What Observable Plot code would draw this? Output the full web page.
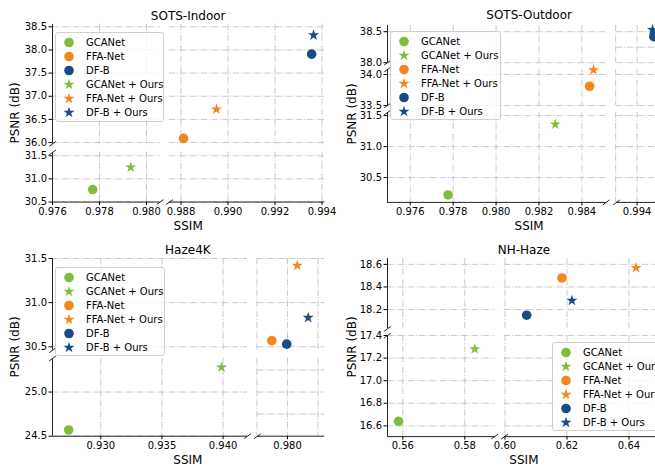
<!DOCTYPE html>
<html><head><meta charset="utf-8">
<script src="https://cdn.jsdelivr.net/npm/d3@7"></script>
<script src="https://cdn.jsdelivr.net/npm/@observablehq/plot@0.6"></script>
<style>
html,body{margin:0;padding:0;background:#fff;}
#fig{position:relative;width:655px;height:467px;overflow:hidden;font-family:"DejaVu Sans",sans-serif;color:#000;}
.lbl{position:absolute;transform:translate(-50%,-50%);white-space:nowrap;font-size:12px;line-height:1;}
.rot{transform:translate(-50%,-50%) rotate(-90deg);}
.legend{position:absolute;border:1px solid #cfcfcf;border-radius:3px;background:rgba(255,255,255,0.8);box-sizing:border-box;}
</style></head><body><div id="fig"></div>
<script>
// ---------------- data ----------------
const methods = ["GCANet", "FFA-Net", "DF-B"];
const methodColors = ["#80bd3c", "#f4861e", "#1a4a87"];

const indoorBaseSSIM = [0.97771, 0.98811, 0.99356];
const indoorBasePSNR = [30.77, 36.09, 37.91];
const indoorOursSSIM = [0.97933, 0.98951, 0.99364];
const indoorOursPSNR = [31.25, 36.72, 38.32];

const outdoorBaseSSIM = [0.97776, 0.98436, 0.99478];
const outdoorBasePSNR = [30.22, 33.81, 38.42];
const outdoorOursSSIM = [0.98276, 0.98454, 0.99472];
const outdoorOursPSNR = [31.36, 34.07, 38.53];

const haze4kBaseSSIM = [0.92737, 0.97872, 0.97994];
const haze4kBasePSNR = [24.57, 30.57, 30.53];
const haze4kOursSSIM = [0.93987, 0.98080, 0.98170];
const haze4kOursPSNR = [25.28, 31.42, 30.83];

const nhBaseSSIM = [0.5586, 0.6184, 0.6070];
const nhBasePSNR = [16.64, 18.48, 18.15];
const nhOursSSIM = [0.5832, 0.6423, 0.6216];
const nhOursPSNR = [17.28, 18.57, 18.28];

// tick labels (per x segment / per y segment, top to bottom)
const indoorXTicks = [[0.976, 0.978, 0.980], [0.988, 0.990, 0.992, 0.994]];
const indoorYTicks = [[36.0, 36.5, 37.0, 37.5, 38.0, 38.5], [30.5, 31.0, 31.5]];
const outdoorXTicks = [[0.976, 0.978, 0.980, 0.982, 0.984], [0.994]];
const outdoorYTicks = [[38.0, 38.5], [33.5, 34.0], [30.5, 31.0, 31.5]];
const haze4kXTicks = [[0.930, 0.935, 0.940], [0.980]];
const haze4kYTicks = [[30.5, 31.0, 31.5], [24.5, 25.0]];
const nhXTicks = [[0.56, 0.58], [0.60, 0.62, 0.64]];
const nhYTicks = [[18.2, 18.4, 18.6], [16.6, 16.8, 17.0, 17.2, 17.4]];

const legendOrderA = ["GCANet", "FFA-Net", "DF-B", "GCANet + Ours", "FFA-Net + Ours", "DF-B + Ours"];
const legendOrderB = ["GCANet", "GCANet + Ours", "FFA-Net", "FFA-Net + Ours", "DF-B", "DF-B + Ours"];

// ---------------- layout ----------------
const subplots = [
  {title: "SOTS-Indoor", base: [indoorBaseSSIM, indoorBasePSNR], ours: [indoorOursSSIM, indoorOursPSNR],
   x: {left: 51.7, k: 23500, gap: 10, segs: [[0.976, 0.98058], [0.98751, 0.99412]]},
   y: {top: 24.3, k: 46.3, gap: 8, segs: [[35.97, 38.55], [30.5, 31.57]]},
   xTicks: indoorXTicks, yTicks: indoorYTicks, xFmt: ".3f",
   xGrid: indoorXTicks, yGridRight: indoorYTicks,
   legend: {order: legendOrderA, left: 55, top: 32.3, w: 109, h: 90},
   psnrX: 15, ssimY: 226, titleY: 16},
  {title: "SOTS-Outdoor", base: [outdoorBaseSSIM, outdoorBasePSNR], ours: [outdoorOursSSIM, outdoorOursPSNR],
   x: {left: 387.3, k: 21460, gap: 10, segs: [[0.97494, 0.98513], [0.99304, 0.9956]]},
   y: {top: 25, k: 62, gap: 7, segs: [[38.0, 38.6], [33.5, 34.08], [30.1, 31.55]]},
   xTicks: outdoorXTicks, yTicks: outdoorYTicks, xFmt: ".3f",
   xGrid: [outdoorXTicks[0], [0.993, 0.994, 0.995]],
   yGridRight: [[38.0, 38.25, 38.5], [33.5, 34.0], [30.5, 31.0, 31.5]],
   legend: {order: legendOrderB, left: 390, top: 30.7, w: 111, h: 89},
   psnrX: 351.7, ssimY: 226, titleY: 15},
  {title: "Haze4K", base: [haze4kBaseSSIM, haze4kBasePSNR], ours: [haze4kOursSSIM, haze4kOursPSNR],
   x: {left: 51.7, k: 12230, gap: 10, segs: [[0.92605, 0.942], [0.97755, 0.98305]]},
   y: {top: 258.3, k: 88.3, gap: 8, segs: [[30.46, 31.5], [24.5, 25.38]]},
   xTicks: haze4kXTicks, yTicks: haze4kYTicks, xFmt: ".3f",
   xGrid: [haze4kXTicks[0], [0.9775, 0.980, 0.9825]],
   yGridRight: [[30.5, 31.0, 31.5], [24.75, 25.0, 25.25]],
   legend: {order: legendOrderB, left: 55, top: 266.7, w: 110, h: 89},
   psnrX: 15, ssimY: 460, titleY: 250},
  {title: "NH-Haze", base: [nhBaseSSIM, nhBasePSNR], ours: [nhOursSSIM, nhOursPSNR],
   x: {left: 387.3, k: 3100, gap: 10, segs: [[0.55506, 0.58963], [0.59985, 0.6502]]},
   y: {top: 258.3, k: 113, gap: 6, segs: [[18.03, 18.652], [16.505, 17.4]]},
   xTicks: nhXTicks, yTicks: nhYTicks, xFmt: ".2f",
   xGrid: nhXTicks, yGridRight: nhYTicks,
   legend: {order: legendOrderB, left: 551.7, top: 341.7, w: 112, h: 89},
   psnrX: 351.7, ssimY: 460, titleY: 250}
];

const fig = document.getElementById("fig");
const M = 40;
const circleR = 4.8, starR = 3.5;
const gridStyle = {stroke: "#bdbdbd", strokeWidth: 0.8, strokeDasharray: "6.4,1.6,1,1.6"};
const spineStyle = {stroke: "#222", strokeWidth: 1};
const slash = {draw(ctx, size) { const s = Math.sqrt(size) / 2; ctx.moveTo(-s, s * 0.72); ctx.lineTo(s, -s * 0.72); }};
const colorScale = {domain: methods, range: methodColors};
const symOf = n => n.includes("Ours") ? "star" : "circle";
const methodOf = n => n.replace(" + Ours", "");

function addLabel(text, x, y, rot) {
  const d = document.createElement("div");
  d.className = "lbl" + (rot ? " rot" : "");
  d.textContent = text;
  d.style.left = x + "px"; d.style.top = y + "px";
  fig.appendChild(d);
}

for (const cfg of subplots) {
  const xpx = []; let cx = cfg.x.left;
  for (const d of cfg.x.segs) { const w = (d[1] - d[0]) * cfg.x.k; xpx.push([cx, cx + w]); cx += w + cfg.x.gap; }
  const ypx = []; let cy = cfg.y.top;
  for (const d of cfg.y.segs) { const h = (d[1] - d[0]) * cfg.y.k; ypx.push([cy, cy + h]); cy += h + cfg.y.gap; }
  const pts = [];
  methods.forEach((m, i) => {
    pts.push({method: m, kind: "base", ssim: cfg.base[0][i], psnr: cfg.base[1][i]});
    pts.push({method: m, kind: "ours", ssim: cfg.ours[0][i], psnr: cfg.ours[1][i]});
  });
  const nx = cfg.x.segs.length, ny = cfg.y.segs.length;
  for (let j = 0; j < ny; j++) for (let i = 0; i < nx; i++) {
    const xd = cfg.x.segs[i], yd = cfg.y.segs[j];
    const [x0, x1] = xpx[i], [y0, y1] = ypx[j];
    const isLeft = i === 0, isBottom = j === ny - 1;
    const inside = pts.filter(p => p.ssim >= xd[0] && p.ssim <= xd[1] && p.psnr >= yd[0] && p.psnr <= yd[1]);
    const brk = [];
    if (isLeft) { if (j > 0) brk.push([xd[0], yd[1]]); if (j < ny - 1) brk.push([xd[0], yd[0]]); }
    if (isBottom) { if (i > 0) brk.push([xd[0], yd[0]]); if (i < nx - 1) brk.push([xd[1], yd[0]]); }
    const marks = [
      Plot.ruleX(cfg.xGrid[i], gridStyle),
      Plot.ruleY(isLeft ? cfg.yTicks[j] : cfg.yGridRight[j], gridStyle)
    ];
    if (isLeft) marks.push(
      Plot.ruleX([xd[0]], spineStyle),
      Plot.axisY(cfg.yTicks[j], {anchor: "left", tickSize: 3.5, tickPadding: 2, tickFormat: d3.format(".1f"), label: null, fontSize: 10}));
    if (isBottom) marks.push(
      Plot.ruleY([yd[0]], spineStyle),
      Plot.axisX(cfg.xTicks[i], {anchor: "bottom", tickSize: 3.5, tickPadding: 2, tickFormat: d3.format(cfg.xFmt), label: null, fontSize: 10}));
    marks.push(
      Plot.dot(inside.filter(p => p.kind === "base"), {x: "ssim", y: "psnr", fill: "method", r: circleR, symbol: "circle"}),
      Plot.dot(inside.filter(p => p.kind === "ours"), {x: "ssim", y: "psnr", fill: "method", r: starR, symbol: "star"}),
      Plot.dot(brk, {x: d => d[0], y: d => d[1], symbol: slash, r: 3.8, stroke: "#222", fill: "none", strokeWidth: 1})
    );
    const svg = Plot.plot({
      width: (x1 - x0) + 2 * M, height: (y1 - y0) + 2 * M, margin: M,
      x: isBottom ? {domain: xd} : {domain: xd, axis: null},
      y: isLeft ? {domain: yd} : {domain: yd, axis: null},
      color: colorScale,
      style: {fontFamily: "DejaVu Sans", fontSize: "10px", background: "transparent", overflow: "visible", color: "#000"},
      marks
    });
    svg.style.position = "absolute";
    svg.style.left = (x0 - M) + "px";
    svg.style.top = (y0 - M) + "px";
    svg.style.maxWidth = "none";
    fig.appendChild(svg);
  }
  const cxMid = (xpx[0][0] + xpx[nx - 1][1]) / 2;
  const cyMid = (ypx[0][0] + ypx[ny - 1][1]) / 2;
  addLabel(cfg.title, cxMid, cfg.titleY, false);
  addLabel("SSIM", cxMid, cfg.ssimY, false);
  addLabel("PSNR (dB)", cfg.psnrX, cyMid, true);

  // legend
  const L = cfg.legend;
  const box = document.createElement("div");
  box.className = "legend";
  box.style.left = L.left + "px"; box.style.top = L.top + "px";
  box.style.width = L.w + "px"; box.style.height = L.h + "px";
  const lg = Plot.plot({
    width: L.w - 2, height: L.h - 2, margin: 0,
    x: {domain: [0, 1], range: [12.5, 13.5], axis: null},
    y: {type: "point", domain: L.order, range: [8.5, 8.5 + 5 * 14.2], padding: 0, axis: null},
    color: colorScale,
    style: {fontFamily: "DejaVu Sans", fontSize: "10px", background: "transparent", overflow: "visible", color: "#000"},
    marks: [
      Plot.dot(L.order.filter(n => symOf(n) === "circle"), {x: () => 0, y: d => d, fill: methodOf, r: circleR, symbol: "circle"}),
      Plot.dot(L.order.filter(n => symOf(n) === "star"), {x: () => 0, y: d => d, fill: methodOf, r: starR, symbol: "star"}),
      Plot.text(L.order, {x: () => 0, y: d => d, text: d => d, dx: 17, textAnchor: "start", fontSize: 10, fill: "#000"})
    ]
  });
  lg.style.display = "block";
  box.appendChild(lg);
  fig.appendChild(box);
}
</script></body></html>
